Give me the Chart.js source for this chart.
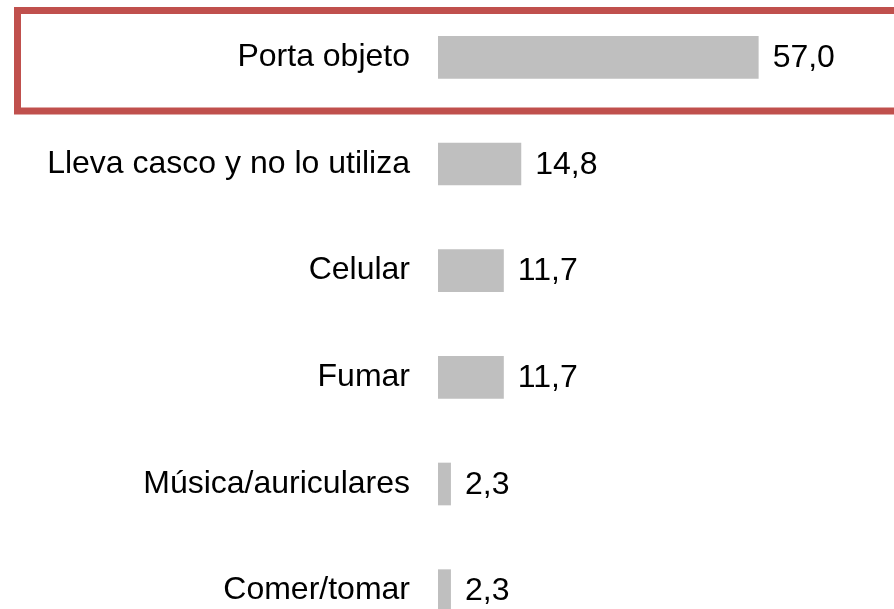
<!DOCTYPE html>
<html>
<head>
<meta charset="utf-8">
<script src="https://cdn.jsdelivr.net/npm/chart.js@4/dist/chart.umd.min.js"></script>
<style>
    html, body { margin: 0; padding: 0; background: #ffffff; overflow: hidden; }
    canvas { display: block; }
</style>
</head>
<body>
<canvas id="chart" width="894" height="644"></canvas>
<script>
const categories = [
    'Porta objeto',
    'Lleva casco y no lo utiliza',
    'Celular',
    'Fumar',
    'Música/auriculares',
    'Comer/tomar'
];
const values = [57.0, 14.8, 11.7, 11.7, 2.3, 2.3];

const FONT = '"Liberation Sans", Arial, sans-serif';

// value labels to the right of each bar
const valueLabels = {
    id: 'valueLabels',
    afterDatasetsDraw(chart) {
        const ctx = chart.ctx;
        const meta = chart.getDatasetMeta(0);
        ctx.save();
        ctx.font = '32px ' + FONT;
        ctx.fillStyle = '#000000';
        ctx.textAlign = 'left';
        ctx.textBaseline = 'middle';
        meta.data.forEach((bar, i) => {
            const text = values[i].toFixed(1).replace('.', ',');
            ctx.fillText(text, bar.x + 14, bar.y + 1);
        });
        ctx.restore();
    }
};

// red frame around the first row
const highlightBox = {
    id: 'highlightBox',
    afterDraw(chart) {
        const ctx = chart.ctx;
        ctx.save();
        ctx.strokeStyle = '#c0504d';
        ctx.lineWidth = 7;
        ctx.strokeRect(17.5, 10.5, 900, 100.5);
        ctx.restore();
    }
};

new Chart(document.getElementById('chart'), {
    type: 'bar',
    data: {
        labels: categories,
        datasets: [{
            data: values,
            backgroundColor: '#bfbfbf',
            borderWidth: 0,
            categoryPercentage: 1,
            barPercentage: 0.4
        }]
    },
    options: {
        indexAxis: 'y',
        responsive: false,
        animation: false,
        devicePixelRatio: 1,
        layout: {
            padding: { top: 4, bottom: 0, left: 0, right: 6 }
        },
        plugins: {
            legend: { display: false },
            tooltip: { enabled: false }
        },
        scales: {
            x: {
                display: false,
                min: 0,
                max: 80
            },
            y: {
                grid: { display: false, drawTicks: false },
                border: { display: false },
                ticks: {
                    color: '#000000',
                    padding: 28,
                    font: { size: 32, family: FONT }
                },
                afterFit(scale) {
                    scale.width = 438;
                    // keep the label padding from shrinking the plot vertically
                    scale.paddingTop = 0;
                    scale.paddingBottom = 0;
                }
            }
        }
    },
    plugins: [valueLabels, highlightBox]
});
</script>
</body>
</html>
